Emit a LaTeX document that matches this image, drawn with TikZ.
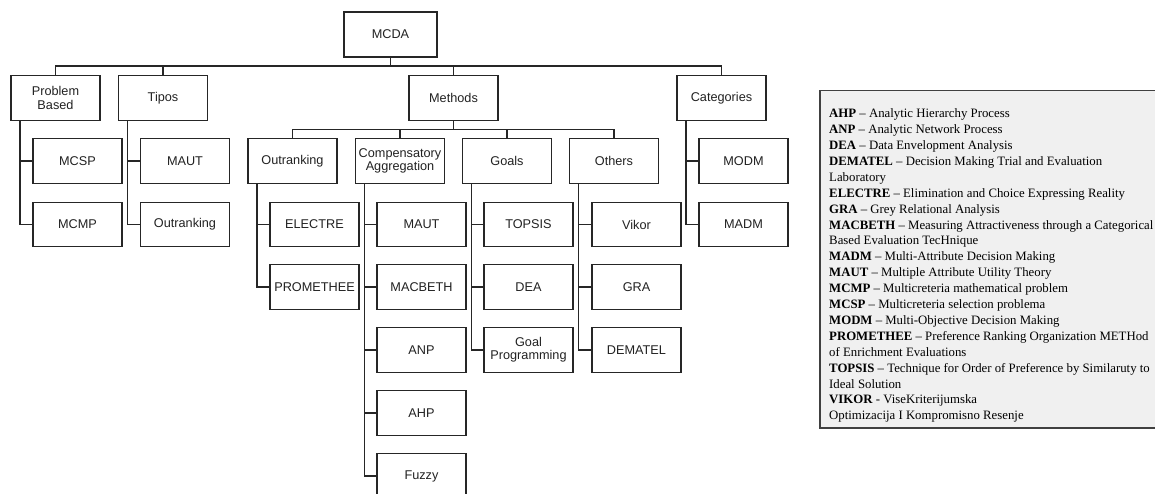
\documentclass[tikz,border=0pt]{standalone}
\usepackage{fontspec}
\setmainfont{Liberation Serif}
\newfontfamily\bxfam{Liberation Sans}
\newcommand\bxfont{\bxfam\fontsize{12.7}{13.3}\selectfont}
\newcommand\lgfont{\rmfamily\fontsize{12.8}{15.9}\selectfont}
\definecolor{linec}{HTML}{262626}
\definecolor{textc}{HTML}{222222}
\definecolor{legfill}{HTML}{F0F0F0}
\definecolor{legline}{HTML}{404040}
\tikzset{
  box/.style={draw=linec, line width=1.2pt, fill=white, minimum width=89pt,
    minimum height=44.5pt, inner sep=1pt, align=center, font=\bxfont, text=textc},
  conn/.style={draw=linec, line width=1.2pt},
}
\begin{document}
\begin{tikzpicture}[x=1pt,y=-1pt]
\useasboundingbox (0,0) rectangle (1155,493);
\clip (0,0) rectangle (1155,493);
% top
\node[box, minimum width=93pt, minimum height=45pt] (mcda) at (390.5,34.5) {MCDA};
\node[box] (pb) at (55.5,98) {Problem\\Based};
\node[box] (tipos) at (163,98) {Tipos};
\node[box] (methods) at (453.5,98) {Methods};
\node[box] (cat) at (721.5,98) {Categories};
% problem based children
\node[box] (mcsp) at (77.5,161) {MCSP};
\node[box] (mcmp) at (77.5,224.5) {MCMP};
% tipos children
\node[box] (tmaut) at (185,161) {MAUT};
\node[box] (tout) at (185,224.5) {Outranking};
% methods children
\node[box] (outr) at (292.5,161) {Outranking};
\node[box] (comp) at (400,161) {Compensatory\\Aggregation};
\node[box] (goals) at (507,161) {Goals};
\node[box] (others) at (614,161) {Others};
% outranking children
\node[box] (electre) at (314.5,224.5) {ELECTRE};
\node[box] (prom) at (314.5,287) {PROMETHEE};
% compensatory children
\node[box] (cmaut) at (421.5,224.5) {MAUT};
\node[box] (macbeth) at (421.5,287) {MACBETH};
\node[box] (anp) at (421.5,350) {ANP};
\node[box] (ahp) at (421.5,413) {AHP};
\node[box] (fuzzy) at (421.5,476) {Fuzzy};
% goals children
\node[box] (topsis) at (528.5,224.5) {TOPSIS};
\node[box] (dea) at (528.5,287) {DEA};
\node[box] (gp) at (528.5,350) {Goal\\Programming};
% others children
\node[box] (vikor) at (636.5,224.5) {Vikor};
\node[box] (gra) at (636.5,287) {GRA};
\node[box] (dematel) at (636.5,350) {DEMATEL};
% categories children
\node[box] (modm) at (743.5,161) {MODM};
\node[box] (madm) at (743.5,224.5) {MADM};
% buses
\coordinate (bus1) at (0,66);
\coordinate (bus2) at (0,129.5);
\draw[conn] (mcda.south) -- (mcda.south |- bus1);
\draw[conn] (pb.north) |- (cat.north |- bus1) -- (cat.north);
\draw[conn] (tipos.north) -- (tipos.north |- bus1);
\draw[conn] (methods.north) -- (methods.north |- bus1);
\draw[conn] (methods.south) -- (methods.south |- bus2);
\draw[conn] (outr.north) |- (others.north |- bus2) -- (others.north);
\draw[conn] (comp.north) -- (comp.north |- bus2);
\draw[conn] (goals.north) -- (goals.north |- bus2);
% child spines
\coordinate (pbL) at ([xshift=9.5pt]pb.south west);
\coordinate (tiL) at ([xshift=9.5pt]tipos.south west);
\coordinate (ouL) at ([xshift=9.5pt]outr.south west);
\coordinate (coL) at ([xshift=9.5pt]comp.south west);
\coordinate (goL) at ([xshift=9.5pt]goals.south west);
\coordinate (otL) at ([xshift=9.5pt]others.south west);
\coordinate (caL) at ([xshift=9.5pt]cat.south west);
\draw[conn] (pbL) |- (mcmp.west);
\draw[conn] (pbL |- mcsp.west) -- (mcsp.west);
\draw[conn] (tiL) |- (tout.west);
\draw[conn] (tiL |- tmaut.west) -- (tmaut.west);
\draw[conn] (ouL) |- (prom.west);
\draw[conn] (ouL |- electre.west) -- (electre.west);
\draw[conn] (coL) |- (fuzzy.west);
\draw[conn] (coL |- cmaut.west) -- (cmaut.west);
\draw[conn] (coL |- macbeth.west) -- (macbeth.west);
\draw[conn] (coL |- anp.west) -- (anp.west);
\draw[conn] (coL |- ahp.west) -- (ahp.west);
\draw[conn] (goL) |- (gp.west);
\draw[conn] (goL |- topsis.west) -- (topsis.west);
\draw[conn] (goL |- dea.west) -- (dea.west);
\draw[conn] (otL) |- (dematel.west);
\draw[conn] (otL |- vikor.west) -- (vikor.west);
\draw[conn] (otL |- gra.west) -- (gra.west);
\draw[conn] (caL) |- (madm.west);
\draw[conn] (caL |- modm.west) -- (modm.west);
% legend
\draw[draw=legline, line width=1.3pt, fill=legfill] (820,90.5) rectangle (1170,428);
\node[anchor=north west, inner sep=0pt, align=left, font=\lgfont, text=black] (legend) at (829,107.5) {%
\rule{0pt}{10pt}\textbf{AHP} – Analytic Hierarchy Process\\
\textbf{ANP} – Analytic Network Process\\
\textbf{DEA} – Data Envelopment Analysis\\
\textbf{DEMATEL} – Decision Making Trial and Evaluation\\
Laboratory\\
\textbf{ELECTRE} – Elimination and Choice Expressing Reality\\
\textbf{GRA} – Grey Relational Analysis\\
\textbf{MACBETH} – Measuring Attractiveness through a Categorical\\
Based Evaluation TecHnique\\
\textbf{MADM} – Multi-Attribute Decision Making\\
\textbf{MAUT} – Multiple Attribute Utility Theory\\
\textbf{MCMP} – Multicreteria mathematical problem\\
\textbf{MCSP} – Multicreteria selection problema\\
\textbf{MODM} – Multi-Objective Decision Making\\
\textbf{PROMETHEE} – Preference Ranking Organization METHod\\
of Enrichment Evaluations\\
\textbf{TOPSIS} – Technique for Order of Preference by Similaruty to\\
Ideal Solution\\
\textbf{VIKOR} - ViseKriterijumska\\
Optimizacija I Kompromisno Resenje};
\end{tikzpicture}
\end{document}
